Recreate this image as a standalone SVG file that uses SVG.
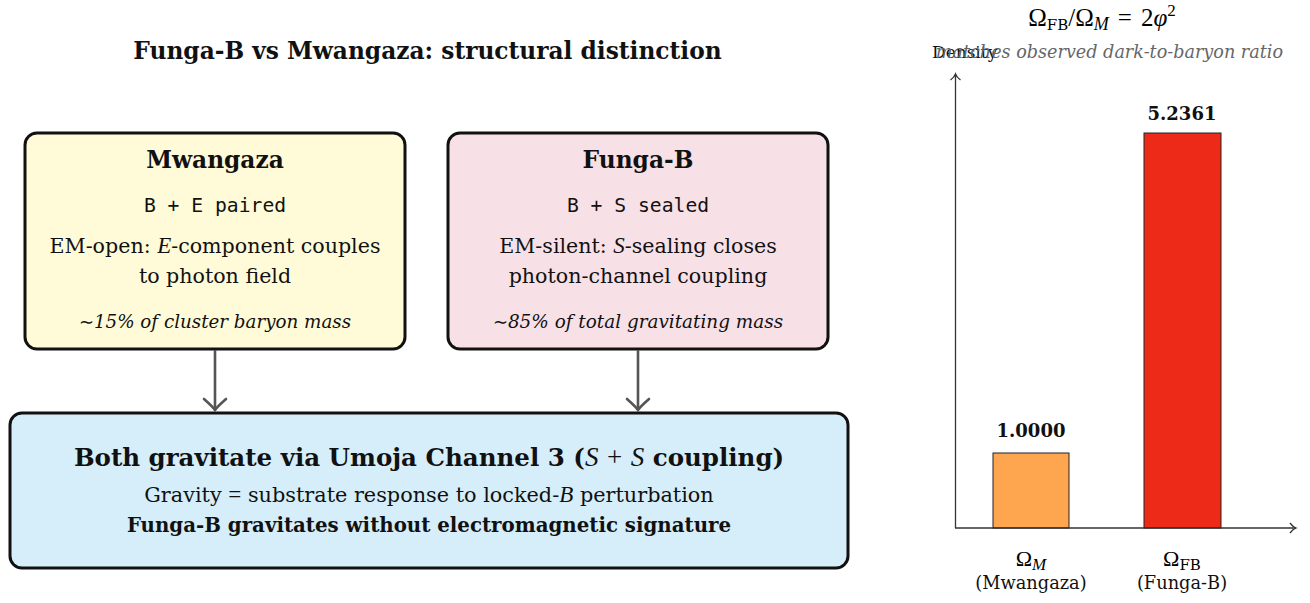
<svg xmlns="http://www.w3.org/2000/svg" width="1310" height="603" viewBox="0 0 1310 603">
  <defs>
    <style>
      .serif { font-family: "DejaVu Serif", "Liberation Serif", serif; fill: #111; }
      .math { font-family: "Liberation Serif", "DejaVu Serif", serif; font-style: italic; }
      .mono { font-family: "DejaVu Sans Mono", "Liberation Mono", monospace; fill: #111; }
      .box { stroke: #111; stroke-width: 3; }
      .conn { stroke: #555; stroke-width: 2.6; fill: none; }
      .axis { stroke: #333; stroke-width: 1.3; fill: none; }
    </style>
    <marker id="arrowOpen" viewBox="-14 -14 28 28" refX="0" refY="0" markerWidth="28" markerHeight="28" markerUnits="userSpaceOnUse" orient="auto">
      <path d="M-11,-11 Q-3,-2 0,0 Q-3,2 -11,11" fill="none" stroke="#555" stroke-width="2.6" stroke-linecap="round"/>
    </marker>
    <marker id="axisTip" viewBox="0 0 12 12" refX="10" refY="6" markerWidth="12" markerHeight="12" markerUnits="userSpaceOnUse" orient="auto">
      <path d="M4,1 Q7,5 10,6 Q7,7 4,11" fill="none" stroke="#333" stroke-width="1.3"/>
    </marker>
  </defs>

  <rect width="1310" height="603" fill="#ffffff"/>

  <!-- heading -->
  <text class="serif" x="427.5" y="59" font-size="23.3" font-weight="bold" text-anchor="middle">Funga-B vs Mwangaza: structural distinction</text>

  <!-- Mwangaza card -->
  <g id="mwangaza">
    <rect class="box" x="25" y="133" width="380" height="216" rx="12" fill="#fffbd9"/>
    <text class="serif" x="215" y="168" font-size="23.3" font-weight="bold" text-anchor="middle">Mwangaza</text>
    <text class="mono" x="215" y="212" font-size="19.7" text-anchor="middle">B + E paired</text>
    <text class="serif" x="215" y="253" font-size="20.6" text-anchor="middle">EM-open: <tspan class="math" font-size="23">E</tspan>-component couples</text>
    <text class="serif" x="215" y="283" font-size="20.6" text-anchor="middle">to photon field</text>
    <text class="serif" x="215" y="328" font-size="18.3" font-style="italic" text-anchor="middle"><tspan font-style="normal" font-family="Liberation Serif">∼</tspan>15% of cluster baryon mass</text>
  </g>

  <!-- Funga-B card -->
  <g id="funga-b">
    <rect class="box" x="448" y="133" width="380" height="216" rx="12" fill="#f8e0e7"/>
    <text class="serif" x="638" y="168" font-size="23.3" font-weight="bold" text-anchor="middle">Funga-B</text>
    <text class="mono" x="638" y="212" font-size="19.7" text-anchor="middle">B + S sealed</text>
    <text class="serif" x="638" y="253" font-size="20.6" text-anchor="middle">EM-silent: <tspan class="math" font-size="23">S</tspan>-sealing closes</text>
    <text class="serif" x="638" y="283" font-size="20.6" text-anchor="middle">photon-channel coupling</text>
    <text class="serif" x="638" y="328" font-size="18.4" font-style="italic" text-anchor="middle"><tspan font-style="normal" font-family="Liberation Serif">∼</tspan>85% of total gravitating mass</text>
  </g>

  <!-- shared gravity channel -->
  <g id="channel3">
    <rect class="box" x="10" y="413" width="838" height="155" rx="12" fill="#d6eef9"/>
    <text class="serif" x="429" y="466" font-size="24.5" font-weight="bold" text-anchor="middle">Both gravitate via Umoja Channel 3 (<tspan class="math" font-weight="normal" font-size="27">S</tspan> <tspan font-family="Liberation Serif" font-weight="normal" font-size="27">+</tspan> <tspan class="math" font-weight="normal" font-size="27">S</tspan> coupling)</text>
    <text class="serif" x="429" y="502" font-size="20.8" text-anchor="middle">Gravity <tspan font-family="Liberation Serif" font-size="23">=</tspan> substrate response to locked-<tspan class="math" font-size="23">B</tspan> perturbation</text>
    <text class="serif" x="429" y="532" font-size="19.8" font-weight="bold" text-anchor="middle">Funga-B gravitates without electromagnetic signature</text>
  </g>

  <!-- connectors -->
  <g id="connectors">
    <line class="conn" x1="215" y1="350" x2="215" y2="410" marker-end="url(#arrowOpen)"/>
    <line class="conn" x1="638" y1="350" x2="638" y2="410" marker-end="url(#arrowOpen)"/>
  </g>

  <!-- density chart -->
  <g id="chart">
    <text x="1102" y="26" font-family="Liberation Serif, serif" font-size="25" text-anchor="middle">Ω<tspan font-family="DejaVu Serif, serif" font-size="15" dy="4">FB</tspan><tspan dy="-4">/Ω</tspan><tspan font-style="italic" font-size="18" dy="4">M</tspan><tspan dy="-4" dx="9">=</tspan><tspan dx="9">2</tspan><tspan font-style="italic">φ</tspan><tspan font-size="17" dy="-10">2</tspan></text>
    <text class="serif" x="932" y="58" font-size="17">Density</text>
    <text x="1283" y="58" font-family="DejaVu Serif, serif" font-size="17.6" font-style="italic" fill="#666" text-anchor="end">matches observed dark-to-baryon ratio</text>

    <g id="bar-mwangaza">
      <rect x="993" y="453" width="76" height="75" fill="#fea64f" stroke="#222" stroke-width="1"/>
      <text class="serif" x="1031" y="437" font-size="18" font-weight="bold" text-anchor="middle">1.0000</text>
      <text x="1031" y="566" font-family="Liberation Serif, serif" font-size="22" text-anchor="middle">Ω<tspan font-style="italic" font-size="17" dy="4">M</tspan></text>
      <text class="serif" x="1031" y="589" font-size="17.8" text-anchor="middle">(Mwangaza)</text>
    </g>
    <g id="bar-funga-b">
      <rect x="1144" y="133" width="77" height="395" fill="#ec2a17" stroke="#222" stroke-width="1"/>
      <text class="serif" x="1182" y="120" font-size="18" font-weight="bold" text-anchor="middle">5.2361</text>
      <text x="1182" y="566" font-family="Liberation Serif, serif" font-size="22" text-anchor="middle">Ω<tspan font-family="DejaVu Serif, serif" font-size="15" dy="4">FB</tspan></text>
      <text class="serif" x="1182" y="589" font-size="17.8" text-anchor="middle">(Funga-B)</text>
    </g>

    <line class="axis" x1="955.5" y1="528" x2="955.5" y2="74" marker-end="url(#axisTip)"/>
    <line class="axis" x1="955" y1="528" x2="1296" y2="528" marker-end="url(#axisTip)"/>
  </g>
</svg>
